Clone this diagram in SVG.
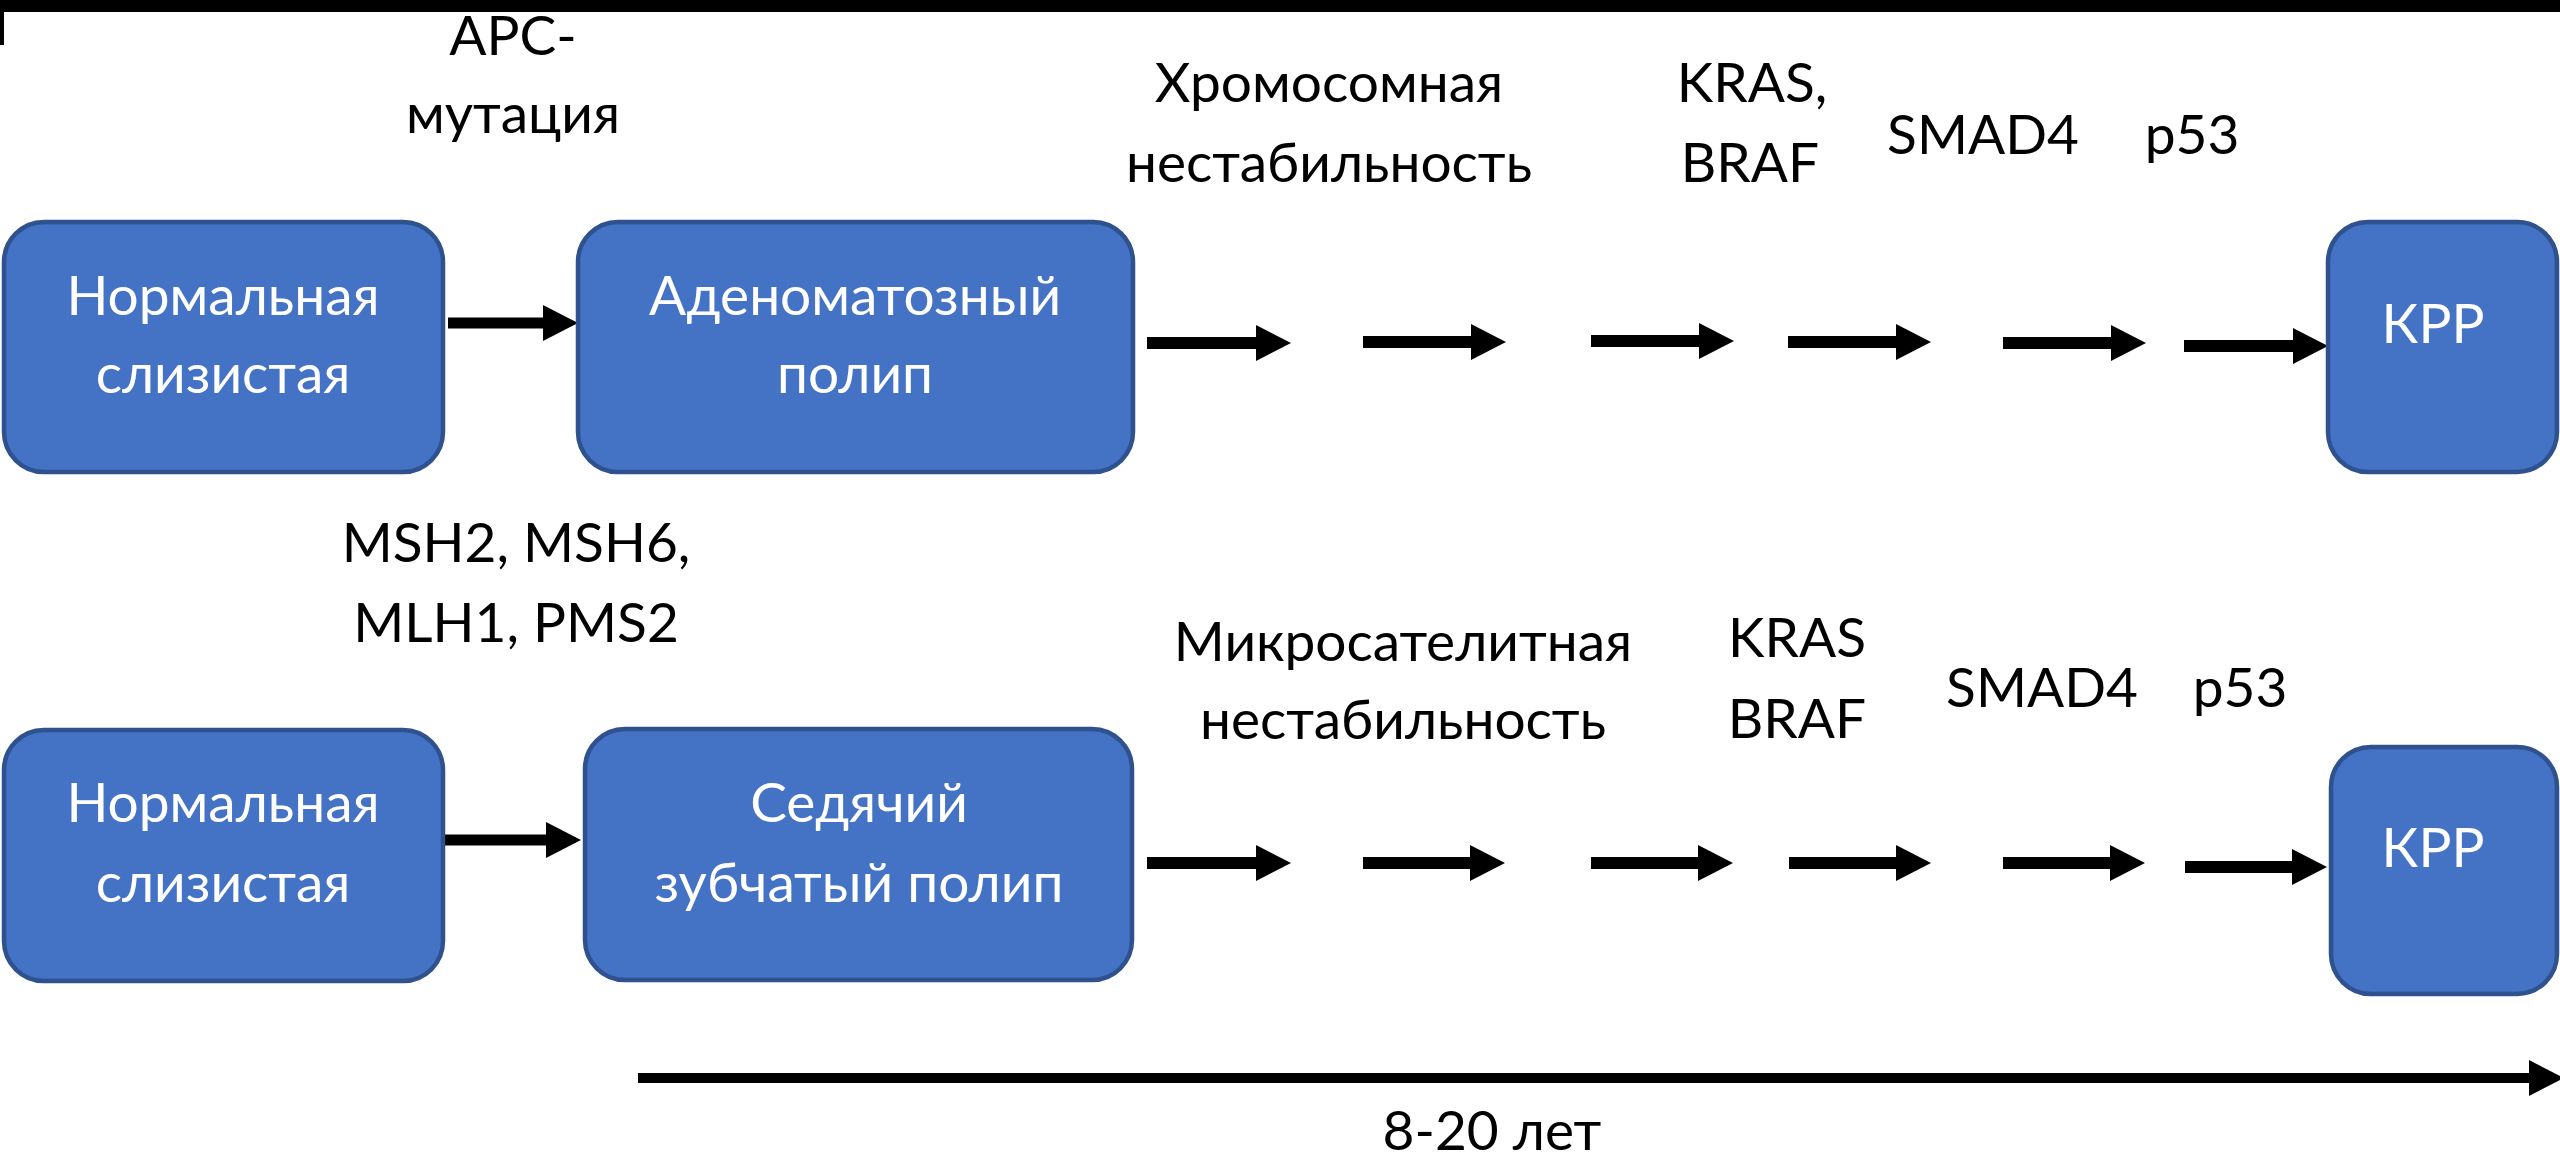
<svg xmlns="http://www.w3.org/2000/svg" width="2560" height="1162" viewBox="0 0 2560 1162">
<style>
.box{fill:#4472C4;stroke:#2F528F;stroke-width:4.5}
.t{font-family:Lato,"Open Sans","Liberation Sans",sans-serif;font-size:55px;text-anchor:middle}
.w{fill:#FFFFFF}
.k{fill:#000000}
.ar{stroke:#000;stroke-width:12;fill:none;marker-end:url(#ah)}
</style>
<defs>
<marker id="ah" markerUnits="userSpaceOnUse" markerWidth="40" markerHeight="40" viewBox="0 0 40 40" refX="1" refY="20" orient="auto">
<path d="M0,2 L35,20 L0,38 z" fill="#000"/>
</marker>
</defs>
<rect x="0" y="0" width="2560" height="1162" fill="#FFFFFF"/>
<rect x="0" y="0" width="2560" height="12" fill="#000"/>
<rect x="0" y="11" width="4" height="34" fill="#000"/>

<g id="connectors">
<line class="ar" x1="448" y1="323" x2="544" y2="323" style="stroke-width:11"/>
<line class="ar" x1="1147" y1="343" x2="1257" y2="343"/>
<line class="ar" x1="1363" y1="342" x2="1472" y2="342"/>
<line class="ar" x1="1591" y1="341" x2="1700" y2="341"/>
<line class="ar" x1="1788" y1="342" x2="1897" y2="342"/>
<line class="ar" x1="2003" y1="343" x2="2112" y2="343"/>
<line class="ar" x1="2184" y1="346" x2="2294" y2="346"/>

<line class="ar" x1="444" y1="840" x2="547" y2="840" style="stroke-width:11"/>
<line class="ar" x1="1147" y1="863" x2="1257" y2="863"/>
<line class="ar" x1="1363" y1="863" x2="1471" y2="863"/>
<line class="ar" x1="1591" y1="863" x2="1699" y2="863"/>
<line class="ar" x1="1789" y1="863" x2="1897" y2="863"/>
<line class="ar" x1="2003" y1="863" x2="2111" y2="863"/>
<line class="ar" x1="2185" y1="867" x2="2293" y2="867"/>

<line class="ar" x1="638" y1="1078" x2="2530" y2="1078" style="stroke-width:10"/>
</g>

<g id="n-normal-1">
<rect class="box" x="4" y="222" width="439" height="250" rx="40"/>
<text class="t w" x="223" y="315">Нормальная</text>
<text class="t w" x="223" y="393">слизистая</text>
</g>
<g id="n-adenoma">
<rect class="box" x="578" y="222" width="555" height="250" rx="40"/>
<text class="t w" x="855" y="315">Аденоматозный</text>
<text class="t w" x="855" y="393">полип</text>
</g>
<g id="n-krr-1">
<rect class="box" x="2328" y="222" width="229" height="250" rx="40"/>
<text class="t w" x="2433" y="343">КРР</text>
</g>

<g id="n-normal-2">
<rect class="box" x="4" y="730" width="439" height="251" rx="40"/>
<text class="t w" x="223" y="822">Нормальная</text>
<text class="t w" x="223" y="902">слизистая</text>
</g>
<g id="n-serrated">
<rect class="box" x="585" y="729" width="547" height="251" rx="40"/>
<text class="t w" x="859" y="822">Седячий</text>
<text class="t w" x="859" y="902">зубчатый полип</text>
</g>
<g id="n-krr-2">
<rect class="box" x="2331" y="747" width="226" height="247" rx="40"/>
<text class="t w" x="2433" y="867">КРР</text>
</g>

<g id="labels">
<text class="t k" x="513" y="55">APC-</text>
<text class="t k" x="513" y="133">мутация</text>
<text class="t k" x="1329" y="102">Хромосомная</text>
<text class="t k" x="1329" y="182">нестабильность</text>
<text class="t k" x="1752" y="102">KRAS,</text>
<text class="t k" x="1750" y="182">BRAF</text>
<text class="t k" x="1983" y="154">SMAD4</text>
<text class="t k" x="2192" y="154">p53</text>

<text class="t k" x="516" y="562">MSH2, MSH6,</text>
<text class="t k" x="516" y="642">MLH1, PMS2</text>
<text class="t k" x="1403" y="661">Микросателитная</text>
<text class="t k" x="1403" y="739">нестабильность</text>
<text class="t k" x="1797" y="657">KRAS</text>
<text class="t k" x="1797" y="738">BRAF</text>
<text class="t k" x="2042" y="707">SMAD4</text>
<text class="t k" x="2240" y="707">p53</text>

<text class="t k" x="1492" y="1150">8-20 лет</text>
</g>
</svg>
